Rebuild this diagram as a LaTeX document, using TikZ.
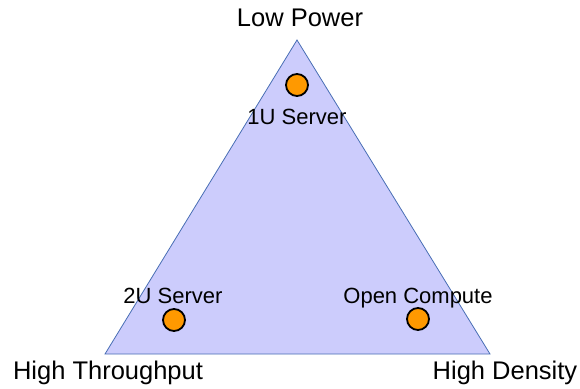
\documentclass[tikz,border=0pt]{standalone}
\usepackage{fontspec}
\setmainfont{Liberation Sans}
\definecolor{trifill}{RGB}{204,204,252}
\definecolor{triedge}{RGB}{72,110,180}
\definecolor{dotfill}{RGB}{255,153,0}
\begin{document}
\begin{tikzpicture}[x=1pt,y=-1pt,
  corner/.style={anchor=base,inner sep=0pt,font=\fontsize{25.5}{30}\selectfont},
  tag/.style={anchor=base,inner sep=0pt,font=\fontsize{22}{26}\selectfont},
  dot/.style={circle,draw=black,line width=1.8pt,fill=dotfill,minimum size=22pt,inner sep=0pt}]
\useasboundingbox (0,0) rectangle (580,388);
\coordinate (top) at (297,40);
\coordinate (bl) at (105,354);
\coordinate (br) at (490,354);
\filldraw[fill=trifill,draw=triedge,line width=0.8pt] (top) -- (bl) -- (br) -- cycle;
\node[dot] (d1) at (297,85) {};
\node[dot] (d2) at (174,320) {};
\node[dot] (d3) at (418,319) {};
\node[tag] (t1) at (297,124) {1U Server};
\node[tag] (t2) at (173,303) {2U Server};
\node[tag] (t3) at (418,303) {Open Compute};
\node[corner] (lp) at (300,26.7) {Low Power};
\node[corner] (ht) at (108,379) {High Throughput};
\node[corner] (hd) at (505,379) {High Density};
\end{tikzpicture}
\end{document}
